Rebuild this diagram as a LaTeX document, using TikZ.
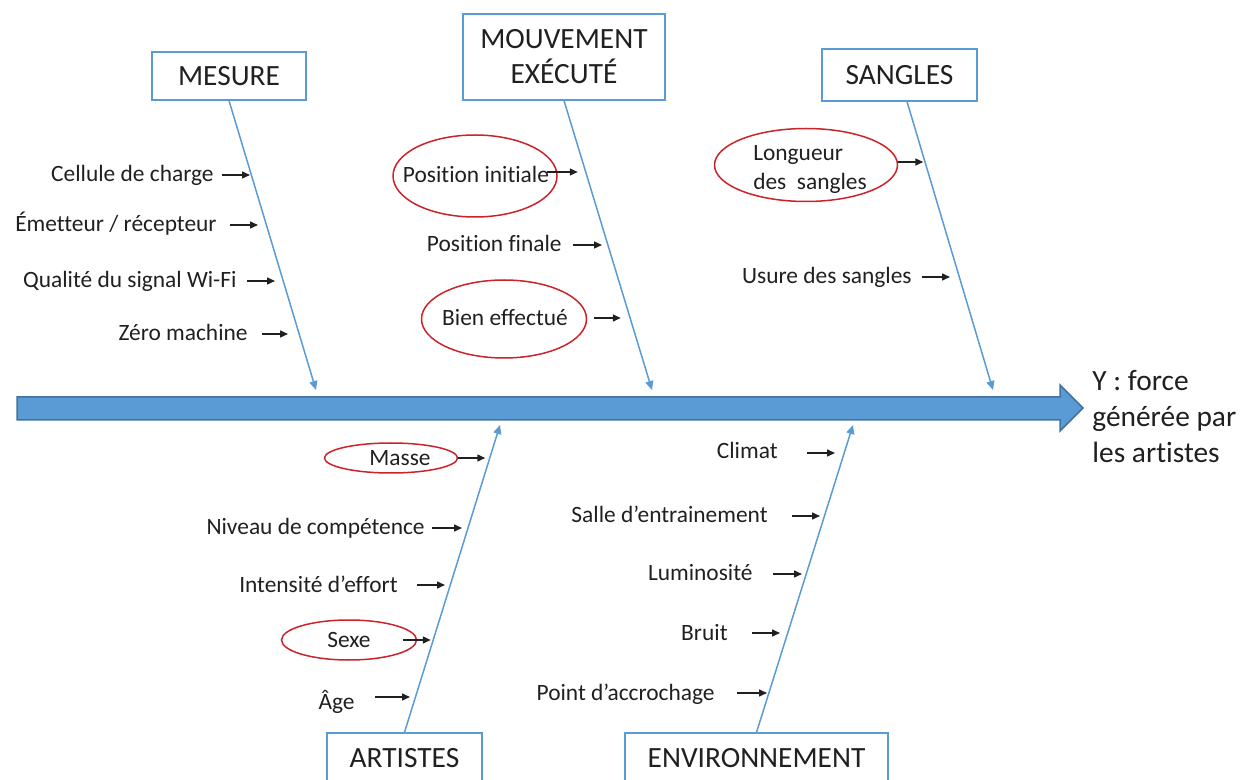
\documentclass[tikz,border=0pt]{standalone}
\usepackage{fontspec}
\setmainfont{Carlito}[Ligatures={NoCommon}]
\usetikzlibrary{arrows.meta,calc,shapes.geometric}
\definecolor{fishblue}{HTML}{5B9BD5}
\definecolor{fishedge}{HTML}{41719C}
\definecolor{ringred}{HTML}{CC2229}
\definecolor{ink}{HTML}{202020}
\begin{document}
\begin{tikzpicture}[x=0.5pt,y=-0.5pt,
	catbox/.style={draw=fishblue, line width=0.6pt, inner sep=0pt, text=ink, align=center, font=\fontsize{14.7}{17.5}\selectfont},
	cause/.style={anchor=east, inner sep=0pt, text=ink, text height=0.8em, text depth=0.1em, font=\fontsize{11.7}{14}\selectfont},
	ring/.style={ellipse, draw=ringred, line width=0.75pt, inner sep=0pt},
	ringtext/.style={inner sep=0pt, text=ink, font=\fontsize{11.7}{14.5}\selectfont},
	bone/.style={draw=fishblue, line width=0.75pt, -{Triangle[length=4.5pt,width=4pt]}},
	tick/.style={draw=ink, line width=0.75pt, -{Triangle[length=4pt,width=3.5pt]}}]
	\useasboundingbox (0,0) rectangle (1248,780);
	% spine
	\filldraw[fill=fishblue, draw=fishedge, line width=0.75pt] (17,397) -- (1060,397) -- (1060,385) -- (1083,408) -- (1060,431) -- (1060,420) -- (17,420) -- cycle;
	\node[anchor=west, inner sep=0pt, align=left, text=ink, font=\fontsize{14.7}{18}\selectfont] (effect) at (1092,417) {Y : force\\générée par\\les artistes};
	% categories
	\node[catbox, minimum width=77pt, minimum height=24pt] (mesure) at (229,76) {MESURE};
	\node[catbox, minimum width=101pt, minimum height=43pt] (mouv) at (564,57) {MOUVEMENT\\EXÉCUTÉ};
	\node[catbox, minimum width=77.5pt, minimum height=26pt] (sangles) at (899.5,75) {SANGLES};
	\node[catbox, minimum width=77.5pt, minimum height=25pt] (artistes) at (404.5,758) {ARTISTES};
	\node[catbox, minimum width=131.5pt, minimum height=25pt] (env) at (756.5,758) {ENVIRONNEMENT};
	\coordinate (mesure-tip) at (316,390);
	\coordinate (mouv-tip) at (652,390);
	\coordinate (sangles-tip) at (993,390);
	\coordinate (artistes-tip) at (500,425);
	\coordinate (env-tip) at (853,425);
	\draw[bone] (mesure.south) -- (mesure-tip);
	\draw[bone] (mouv.south) -- (mouv-tip);
	\draw[bone] ([xshift=3.75pt]sangles.south) -- (sangles-tip);
	\draw[bone] (artistes.north) -- (artistes-tip);
	\draw[bone] (env.north) -- (env-tip);
	% MESURE
	\node[cause] (cellule) at (214,175) {Cellule de charge};
	\node[cause] (emetteur) at (217,225) {Émetteur / récepteur};
	\node[cause] (qualite) at (237,281) {Qualité du signal Wi-Fi};
	\node[cause] (zero) at (248,334) {Zéro machine};
	\draw[tick] ($(cellule.east)+(8,0)$) -- ++(28,0);
	\draw[tick] ($(emetteur.east)+(13,0)$) -- ++(28,0);
	\draw[tick] ($(qualite.east)+(10,0)$) -- ++(28,0);
	\draw[tick] ($(zero.east)+(14,0)$) -- ++(26,0);
	% MOUVEMENT EXECUTE
	\node[ring, minimum width=82pt, minimum height=41pt] (posinit) at (475,176) {};
	\node[ringtext] (posinit-t) at (476,174) {Position initiale};
	\node[cause] (posfin) at (562,245) {Position finale};
	\node[ring, minimum width=82.5pt, minimum height=39pt] (bien) at (504,319) {};
	\node[ringtext] (bien-t) at (505,318) {Bien effectué};
	\draw[tick] ($(posinit.east)+(-11,-4)$) -- ++(31,0);
	\draw[tick] ($(posfin.east)+(11,0)$) -- ++(29,0);
	\draw[tick] ($(bien.east)+(6.5,-1)$) -- ++(27,0);
	% SANGLES
	\node[ring, minimum width=91.5pt, minimum height=36.5pt] (longueur) at (806,165) {};
	\node[ringtext, align=left] (longueur-t) at (810,170) {Longueur\\des\ \ sangles};
	\node[cause] (usure) at (912,277) {Usure des sangles};
	\draw[tick] ($(longueur.east)+(0,-3)$) -- ++(25,0);
	\draw[tick] ($(usure.east)+(10,0)$) -- ++(28,0);
	% ARTISTES
	\node[ring, minimum width=66.5pt, minimum height=15pt] (masse) at (391,458) {};
	\node[ringtext] (masse-t) at (400,458) {Masse};
	\node[cause] (niveau) at (425,528) {Niveau de compétence};
	\node[cause] (intensite) at (398,585) {Intensité d’effort};
	\node[ring, minimum width=67.5pt, minimum height=20pt] (sexe) at (349,640) {};
	\node[ringtext] (sexe-t) at (349,640) {Sexe};
	\node[cause] (age) at (355,702) {Âge};
	\draw[tick] (masse.east) -- ++(27,0);
	\draw[tick] ($(niveau.east)+(7,0)$) -- ++(30,0);
	\draw[tick] ($(intensite.east)+(19,0)$) -- ++(28,0);
	\draw[tick] ($(sexe.east)+(-14.5,0)$) -- ++(28,0);
	\draw[tick] ($(age.east)+(20,-5)$) -- ++(35,0);
	% ENVIRONNEMENT
	\node[cause] (climat) at (778,452) {Climat};
	\node[cause] (salle) at (768,516) {Salle d’entrainement};
	\node[cause] (lumino) at (753,574) {Luminosité};
	\node[cause] (bruit) at (728,633) {Bruit};
	\node[cause] (point) at (715,693) {Point d’accrochage};
	\draw[tick] ($(climat.east)+(29,1)$) -- ++(28,0);
	\draw[tick] ($(salle.east)+(24,0)$) -- ++(28,0);
	\draw[tick] ($(lumino.east)+(20,0)$) -- ++(29,0);
	\draw[tick] ($(bruit.east)+(24,0)$) -- ++(28,0);
	\draw[tick] ($(point.east)+(22,0)$) -- ++(30,0);
\end{tikzpicture}
\end{document}
